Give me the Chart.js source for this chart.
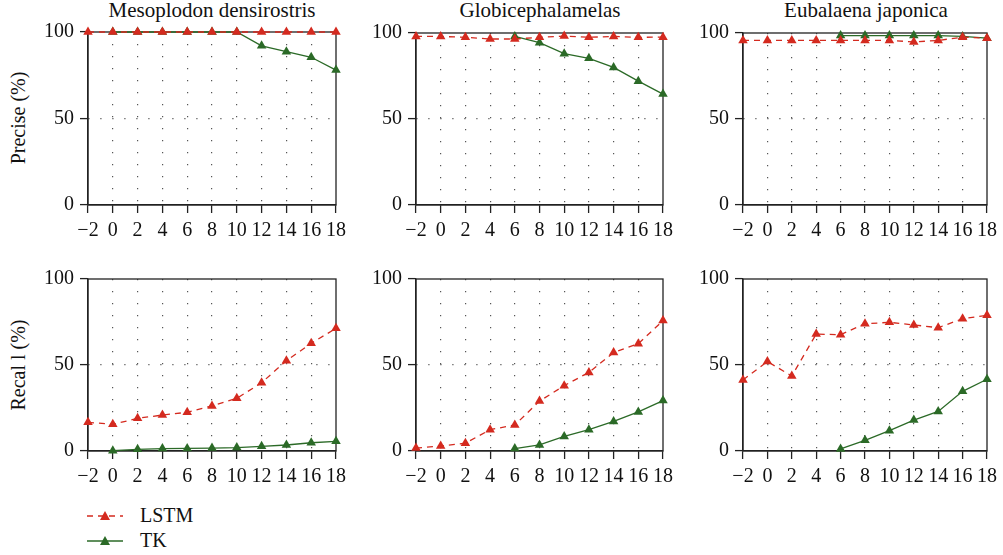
<!DOCTYPE html>
<html>
<head>
<meta charset="utf-8">
<script src="https://cdn.jsdelivr.net/npm/chart.js@4.4.1/dist/chart.umd.min.js"></script>
<style>
  body { margin: 0; background: #fff; }
  #wrap { position: relative; width: 1003px; height: 555px; overflow: hidden; font-family: "Liberation Serif", "DejaVu Serif", serif; color: #111; }
  #wrap canvas { position: absolute; left: 0; top: 0; }
  .ttl { position: absolute; font-size: 21px; transform: translateX(-50%); white-space: nowrap; }
  .ylab { position: absolute; font-size: 20px; white-space: nowrap; transform: translate(-50%, -50%) rotate(-90deg); }
  .leg { position: absolute; left: 86px; font-size: 20px; display: flex; align-items: center; }
  .leg span { margin-left: 16px; }
</style>
</head>
<body>
<div id="wrap">
  <div class="ttl" style="left:212px;top:-2px">Mesoplodon densirostris</div>
  <div class="ttl" style="left:540px;top:-2px">Globicephalamelas</div>
  <div class="ttl" style="left:866px;top:-2px">Eubalaena japonica</div>
  <div class="ylab" style="left:18px;top:118px">Precise (%)</div>
  <div class="ylab" style="left:18px;top:365px">Recal l (%)</div>
  <div class="leg" style="top:504px">
    <svg width="38" height="20"><line x1="1" y1="10" x2="37" y2="10" stroke="#d42a1f" stroke-width="1.3" stroke-dasharray="6,5"/><polygon points="19,5 24,14 14,14" fill="#d42a1f"/></svg>
    <span>LSTM</span>
  </div>
  <div class="leg" style="top:529px">
    <svg width="38" height="20"><line x1="1" y1="10" x2="37" y2="10" stroke="#2b6a27" stroke-width="1.3"/><polygon points="19,5 24,14 14,14" fill="#2b6a27"/></svg>
    <span>TK</span>
  </div>
</div>
<script>
// x positions (threshold)
var xValues = [-2, 0, 2, 4, 6, 8, 10, 12, 14, 16, 18];
var yTicks = [0, 50, 100];

var panelTitles = ["Mesoplodon densirostris", "Globicephalamelas", "Eubalaena japonica"];

// Precise (%)
var precLSTM_meso = [100, 100, 100, 100, 100, 100, 100, 100, 100, 100, 100];
var precTK_meso   = [null, 100, 100, 100, 100, 100, 100, 92, 88.6, 85.4, 78];
var precLSTM_glob = [98, 98, 97.5, 96.5, 96.5, 97.5, 98.2, 97.5, 98, 97.5, 97.6];
var precTK_glob   = [null, null, null, null, 98, 94.4, 88, 85.3, 80, 72, 64.5];
var precLSTM_eub  = [95.7, 95.7, 95.7, 95.7, 95.7, 95.7, 95.7, 94.8, 95.7, 97.6, 97];
var precTK_eub    = [null, null, null, null, 98.5, 98.5, 98.5, 98.5, 98.5, 98, 97];

// Recal l (%)
var recLSTM_meso = [16.7, 15.5, 19, 20.9, 22.5, 26.2, 30.6, 39.7, 52.5, 62.6, 71.3];
var recTK_meso   = [null, 0.2, 1, 1.4, 1.5, 1.7, 2, 2.7, 3.5, 4.8, 5.6];
var recLSTM_glob = [1.7, 2.9, 4.5, 12.4, 15.1, 29, 38, 45.7, 57.2, 62.4, 75.8];
var recTK_glob   = [null, null, null, null, 1.4, 3.5, 8.5, 12.4, 17.2, 22.7, 29.3];
var recLSTM_eub  = [41.3, 52, 43.6, 68, 67.6, 74, 74.8, 73.3, 71.7, 76.9, 78.9];
var recTK_eub    = [null, null, null, null, 1.2, 6.2, 11.8, 18, 23, 34.7, 41.7];

var RED = '#d42a1f';
var GREEN = '#2b6a27';
var AXIS = '#222';
var FONT = "'Liberation Serif', 'DejaVu Serif', serif";
var W = 1003, H = 555;

var boxPlugin = {
    id: 'box',
    beforeDatasetsDraw: function (chart) {
        var a = chart.chartArea, c = chart.ctx;
        c.save();
        c.strokeStyle = AXIS;
        c.lineWidth = 1.3;
        c.strokeRect(a.left, a.top, a.right - a.left, a.bottom - a.top);
        c.restore();
    }
};

function makePanel(rect, lstm, tk) {
    var cv = document.createElement('canvas');
    cv.width = W;
    cv.height = H;
    document.getElementById('wrap').appendChild(cv);
    var yW = 50, xH = 38;
    var last = xValues.length - 1;

    new Chart(cv, {
        type: 'line',
        data: {
            labels: xValues.map(function (v) { return String(v).replace('-', '\u2212'); }),
            datasets: [{
                label: 'LSTM',
                data: lstm,
                borderColor: RED,
                backgroundColor: RED,
                borderWidth: 1.3,
                borderDash: [6, 5],
                pointStyle: 'triangle',
                pointRadius: 5.5,
                pointBorderWidth: 0,
                tension: 0,
                clip: false
            }, {
                label: 'TK',
                data: tk,
                borderColor: GREEN,
                backgroundColor: GREEN,
                borderWidth: 1.3,
                pointStyle: 'triangle',
                pointRadius: 5.5,
                pointBorderWidth: 0,
                tension: 0,
                clip: false
            }]
        },
        options: {
            responsive: false,
            animation: false,
            events: [],
            layout: {
                padding: {
                    left: rect[0] - yW,
                    top: rect[1],
                    right: W - rect[2],
                    bottom: H - rect[3] - xH
                }
            },
            plugins: { legend: { display: false }, tooltip: { enabled: false } },
            scales: {
                x: {
                    offset: false,
                    afterFit: function (s) { s.height = xH; },
                    grid: {
                        color: function (ctx) {
                            return (ctx.index === 0 || ctx.index === last) ? 'rgba(0,0,0,0)' : '#555';
                        },
                        lineWidth: 1.2,
                        tickColor: AXIS,
                        tickWidth: 1.3,
                        tickLength: 8
                    },
                    border: { display: true, color: AXIS, width: 1.3, dash: [1.2, 10.8] },
                    ticks: {
                        color: '#111',
                        font: { family: FONT, size: 20 },
                        padding: 6,
                        maxRotation: 0,
                        autoSkip: false
                    }
                },
                y: {
                    min: 0,
                    max: 100,
                    afterFit: function (s) { s.width = yW; },
                    afterBuildTicks: function (s) {
                        s.ticks = yTicks.map(function (v) { return { value: v }; });
                    },
                    grid: {
                        color: function (ctx) {
                            return ctx.tick && ctx.tick.value === 50 ? '#555' : 'rgba(0,0,0,0)';
                        },
                        lineWidth: 1.2,
                        tickColor: AXIS,
                        tickWidth: 1.3,
                        tickLength: 8
                    },
                    border: { display: true, color: AXIS, width: 1.3, dash: [1.2, 10.8] },
                    ticks: {
                        color: '#111',
                        font: { family: FONT, size: 20 },
                        padding: 6
                    }
                }
            }
        },
        plugins: [boxPlugin]
    });
}

// plot rectangles: left, top, right, bottom
makePanel([88, 32, 336, 205], precLSTM_meso, precTK_meso);
makePanel([416, 33, 663, 205], precLSTM_glob, precTK_glob);
makePanel([743, 33, 990, 205], precLSTM_eub, precTK_eub);
makePanel([88, 279, 336, 451], recLSTM_meso, recTK_meso);
makePanel([416, 279, 663, 451], recLSTM_glob, recTK_glob);
makePanel([743, 279, 990, 451], recLSTM_eub, recTK_eub);
</script>
</body>
</html>
